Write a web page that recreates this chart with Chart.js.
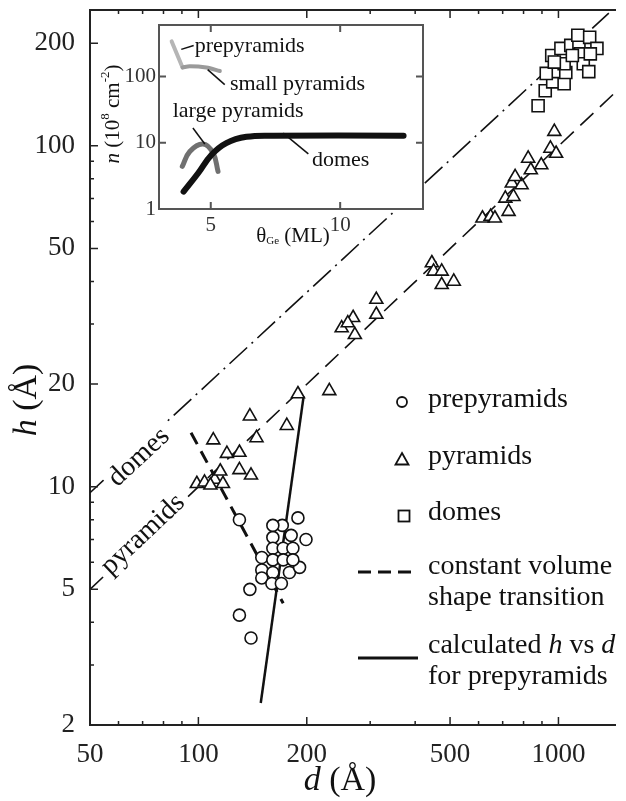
<!DOCTYPE html>
<html>
<head>
<meta charset="utf-8">
<script src="https://cdn.jsdelivr.net/npm/chart.js@4.4.0/dist/chart.umd.min.js"></script>
<style>
  html, body { margin: 0; padding: 0; background: #fff; overflow: hidden; }
  #wrap { position: relative; width: 626px; height: 801px; }
  #mainChart { position: absolute; left: 0; top: 0; }
  #insetChart { position: absolute; left: 100px; top: 14px; }
</style>
</head>
<body>
<div id="wrap">
  <canvas id="mainChart" width="626" height="801"></canvas>
  <canvas id="insetChart" width="340" height="240"></canvas>
</div>
<script>
// ---- main panel: island height h vs diameter d (both in Angstrom) ----
let prepyrD = [130, 171, 189, 161, 181, 199, 161, 172, 183, 150, 161, 172, 150, 161, 179, 191, 150, 160, 170, 139, 130, 140, 183, 161];
let prepyrH = [8.0, 7.7, 8.1, 7.1, 7.2, 7.0, 6.6, 6.6, 6.6, 6.2, 6.1, 6.1, 5.7, 5.6, 5.6, 5.8, 5.4, 5.2, 5.2, 5.0, 4.2, 3.6, 6.1, 7.7];

let pyrD = [99, 104, 111, 117, 115, 120, 130, 130, 140, 110, 139, 145, 176, 189, 231, 250, 269, 272, 312, 312,
            445, 450, 474, 474, 512, 615, 648, 666, 727, 712, 750, 742, 790, 974, 950, 985, 896, 824, 838, 758, 108, 260];
let pyrH = [10.2, 10.3, 10.5, 10.2, 11.1, 12.5, 12.6, 11.2, 10.8, 13.7, 16.1, 13.9, 15.1, 18.7, 19.1, 29.2, 31.3, 27.9, 35.4, 32.0,
            45.3, 42.8, 42.8, 39.1, 40.0, 61.3, 62.0, 61.3, 64.1, 70.1, 70.9, 77.6, 76.7, 110, 98.2, 94.9, 87.8, 91.8, 84.9, 81.1, 10.1, 30.2];

let domeD = [878, 919, 964, 1037, 985, 1048, 925, 958, 1016, 1037, 1082, 1140, 1132, 1152, 1172, 1214, 1221, 1279, 1226, 974, 1093];
let domeH = [131, 145, 154, 152, 165, 164, 163, 184, 193, 174, 197, 201, 211, 186, 174, 165, 208, 193, 186, 176, 184];

// guide lines (end points)
let domeLineD = [50, 1380];
let domeLineH = [9.6, 245];
let pyrLineD = [50, 1444];
let pyrLineH = [5, 144];
let constVolD = [95.4, 172];
let constVolH = [14.4, 4.55];
let calcD = [149, 196];
let calcH = [2.32, 18.4];

// axes
let xTickValues = [50, 60, 70, 80, 90, 100, 200, 300, 400, 500, 600, 700, 800, 900, 1000];
let xLabels = [50, 100, 200, 500, 1000];
let yTickValues = [2, 3, 4, 5, 6, 7, 8, 9, 10, 20, 30, 40, 50, 60, 70, 80, 90, 100, 200];
let yLabels = [2, 5, 10, 20, 50, 100, 200];

// ---- inset: island density n (1e8 cm^-2) vs Ge coverage (ML) ----
let prepyrTheta = [3.49, 3.91];
let prepyrN = [339, 137];
let smallPyrTheta = [3.91, 4.19, 4.83, 5.35];
let smallPyrN = [137, 143, 137, 121];
let largePyrTheta = [3.9, 4.19, 4.7, 5.09, 5.28];
let largePyrN = [4.4, 7.4, 9.6, 7.0, 3.7];
let domeTheta = [3.95, 4.51, 5.03, 5.6, 6.38, 7.41, 12.45];
let domeN = [1.83, 3.47, 6.6, 9.9, 12.3, 12.8, 12.8];

let insetXTicks = [5, 10];
let insetYTicks = [1, 10, 100];

let serif = '"Liberation Serif", "Times New Roman", serif';
Chart.defaults.font.family = serif;
Chart.defaults.color = '#222';

function pts(xs, ys) {
  return xs.map(function (v, i) { return { x: v, y: ys[i] }; });
}

function partsWidth(ctx, parts) {
  let w = 0;
  parts.forEach(function (p) { ctx.font = p.font; w += ctx.measureText(p.t).width; });
  return w;
}

function drawParts(ctx, x, y, parts) {
  parts.forEach(function (p) {
    ctx.font = p.font;
    ctx.fillText(p.t, x, y + (p.dy || 0));
    x += ctx.measureText(p.t).width;
  });
}

// keep the chart area where we put it: no extra room for the end labels
function fixedWidth(w) {
  return function (s) { s.width = w; s.paddingTop = 0; s.paddingBottom = 0; };
}

// label sitting on a guide line, rotated along it
function lineLabel(chart, text, d, h, lineD, lineH) {
  let ctx = chart.ctx;
  let xs = chart.scales.x, ys = chart.scales.y;
  let ang = Math.atan2(ys.getPixelForValue(lineH[1]) - ys.getPixelForValue(lineH[0]),
                       xs.getPixelForValue(lineD[1]) - xs.getPixelForValue(lineD[0]));
  ctx.save();
  ctx.translate(xs.getPixelForValue(d), ys.getPixelForValue(h));
  ctx.rotate(ang);
  ctx.font = '28px ' + serif;
  let w = ctx.measureText(text).width;
  ctx.fillStyle = '#fff';
  ctx.fillRect(-w / 2 - 5, -16, w + 10, 30);
  ctx.fillStyle = '#111';
  ctx.textAlign = 'center';
  ctx.textBaseline = 'middle';
  ctx.fillText(text, 0, 0);
  ctx.restore();
}

const mainDecor = {
  id: 'mainDecor',
  afterDatasetsDraw(chart) {
    lineLabel(chart, 'domes', 68.4, 12.2, domeLineD, domeLineH);
    lineLabel(chart, 'pyramids', 70.2, 7.24, pyrLineD, pyrLineH);
  },
  afterDraw(chart) {
    let ctx = chart.ctx;
    let a = chart.chartArea;
    let xs = chart.scales.x, ys = chart.scales.y;

    // inward ticks
    ctx.save();
    ctx.strokeStyle = '#222';
    ctx.lineWidth = 1.5;
    ctx.beginPath();
    xTickValues.forEach(function (v) {
      let px = xs.getPixelForValue(v);
      let len = xLabels.includes(v) ? 8 : 4;
      ctx.moveTo(px, a.bottom); ctx.lineTo(px, a.bottom - len);
      ctx.moveTo(px, a.top); ctx.lineTo(px, a.top + len);
    });
    yTickValues.forEach(function (v) {
      let py = ys.getPixelForValue(v);
      let len = yLabels.includes(v) ? 8 : 4;
      ctx.moveTo(a.left, py); ctx.lineTo(a.left + len, py);
    });
    ctx.stroke();

    // axis titles
    ctx.fillStyle = '#111';
    ctx.textBaseline = 'middle';
    ctx.textAlign = 'left';
    let xt = [{ t: 'd', font: 'italic 34px ' + serif }, { t: ' (Å)', font: '34px ' + serif }];
    drawParts(ctx, 340 - partsWidth(ctx, xt) / 2, 781, xt);
    let yt = [{ t: 'h', font: 'italic 34px ' + serif }, { t: ' (Å)', font: '34px ' + serif }];
    ctx.save();
    ctx.translate(27, 400);
    ctx.rotate(-Math.PI / 2);
    drawParts(ctx, -partsWidth(ctx, yt) / 2, 0, yt);
    ctx.restore();

    // legend
    let tx = 428;
    ctx.strokeStyle = '#111';
    ctx.lineWidth = 1.8;
    ctx.beginPath();
    ctx.arc(402, 402, 5, 0, Math.PI * 2);
    ctx.stroke();
    ctx.beginPath();
    ctx.moveTo(402, 453); ctx.lineTo(408.5, 464.5); ctx.lineTo(395.5, 464.5); ctx.closePath();
    ctx.stroke();
    ctx.strokeRect(398.5, 510.5, 11, 11);
    ctx.lineWidth = 3;
    ctx.setLineDash([13, 7]);
    ctx.beginPath(); ctx.moveTo(358, 572); ctx.lineTo(418, 572); ctx.stroke();
    ctx.setLineDash([]);
    ctx.beginPath(); ctx.moveTo(358, 658); ctx.lineTo(418, 658); ctx.stroke();

    ctx.font = '28px ' + serif;
    ctx.fillText('prepyramids', tx, 400);
    ctx.fillText('pyramids', tx, 457);
    ctx.fillText('domes', tx, 513);
    ctx.fillText('constant volume', tx, 567);
    ctx.fillText('shape transition', tx, 598);
    drawParts(ctx, tx, 646, [
      { t: 'calculated ', font: '28px ' + serif },
      { t: 'h', font: 'italic 28px ' + serif },
      { t: ' vs ', font: '28px ' + serif },
      { t: 'd', font: 'italic 28px ' + serif }
    ]);
    ctx.font = '28px ' + serif;
    ctx.fillText('for prepyramids', tx, 677);
    ctx.restore();
  }
};

function markerSet(label, xs, ys, style, r) {
  return {
    label: label, data: pts(xs, ys), pointStyle: style, pointRadius: r,
    pointBorderColor: '#111', pointBackgroundColor: '#fff', pointBorderWidth: 1.6, order: 0
  };
}

function lineSet(label, xs, ys, width, dash) {
  return {
    label: label, data: pts(xs, ys), showLine: true, pointRadius: 0,
    borderColor: '#111', borderWidth: width, borderDash: dash, order: 1
  };
}

new Chart(document.getElementById('mainChart'), {
  type: 'scatter',
  data: {
    datasets: [
      markerSet('prepyramids', prepyrD, prepyrH, 'circle', 6),
      markerSet('pyramids', pyrD, pyrH, 'triangle', 7.5),
      markerSet('domes', domeD, domeH, 'rect', 8.5),
      lineSet('domes fit', domeLineD, domeLineH, 1.6, [24, 6, 2, 6]),
      lineSet('pyramids fit', pyrLineD, pyrLineH, 1.6, [18, 9]),
      lineSet('constant volume', constVolD, constVolH, 3, [13, 8]),
      lineSet('calculated', calcD, calcH, 2.5, [])
    ]
  },
  options: {
    responsive: false,
    animation: false,
    devicePixelRatio: 1,
    layout: { padding: 0 },
    plugins: { legend: { display: false }, tooltip: { enabled: false } },
    scales: {
      x: {
        type: 'logarithmic', position: 'bottom', min: 50, max: 1444,
        grid: { display: false, drawTicks: false },
        border: { display: true, color: '#222', width: 2 },
        ticks: {
          autoSkip: false, maxRotation: 0, padding: 14, color: '#222', font: { size: 27 },
          callback: function (v) { return xLabels.includes(v) ? String(v) : ''; }
        },
        afterBuildTicks: function (s) { s.ticks = xTickValues.map(function (v) { return { value: v }; }); },
        afterFit: function (s) { s.height = 76; }
      },
      x2: {
        type: 'logarithmic', position: 'top', min: 50, max: 1444,
        grid: { display: false, drawTicks: false },
        border: { display: true, color: '#222', width: 2 },
        ticks: { display: false },
        afterFit: function (s) { s.height = 8; }
      },
      y: {
        type: 'logarithmic', position: 'left', min: 2, max: 250,
        grid: { display: false, drawTicks: false },
        border: { display: true, color: '#222', width: 2 },
        ticks: {
          autoSkip: false, padding: 15, color: '#222', font: { size: 27 },
          callback: function (v) { return yLabels.includes(v) ? String(v) : ''; }
        },
        afterBuildTicks: function (s) { s.ticks = yTickValues.map(function (v) { return { value: v }; }); },
        afterFit: fixedWidth(90)
      }
    }
  },
  plugins: [mainDecor]
});

// ---- inset ----
const insetDecor = {
  id: 'insetDecor',
  beforeDatasetsDraw(chart) {
    let a = chart.chartArea;
    chart.ctx.save();
    chart.ctx.fillStyle = '#fff';
    chart.ctx.fillRect(a.left, a.top, a.right - a.left, a.bottom - a.top);
    chart.ctx.restore();
  },
  afterDraw(chart) {
    let ctx = chart.ctx;
    let a = chart.chartArea;
    let xs = chart.scales.x, ys = chart.scales.y;
    ctx.save();
    ctx.strokeStyle = '#555';
    ctx.lineWidth = 2;
    ctx.strokeRect(a.left, a.top, a.right - a.left, a.bottom - a.top);
    ctx.beginPath();
    insetXTicks.forEach(function (v) {
      let px = xs.getPixelForValue(v);
      ctx.moveTo(px, a.bottom); ctx.lineTo(px, a.bottom - 7);
      ctx.moveTo(px, a.top); ctx.lineTo(px, a.top + 7);
    });
    [10, 100].forEach(function (v) {
      let py = ys.getPixelForValue(v);
      ctx.moveTo(a.left, py); ctx.lineTo(a.left + 7, py);
      ctx.moveTo(a.right, py); ctx.lineTo(a.right - 7, py);
    });
    ctx.stroke();

    // curve names with leader lines
    let notes = [
      { t: 'prepyramids', x: 4.38, y: 285, from: [3.86, 257], to: [4.34, 295] },
      { t: 'small pyramids', x: 5.74, y: 75.6, from: [4.88, 127], to: [5.54, 75.6] },
      { t: 'large pyramids', x: 3.53, y: 29.5, from: [4.77, 9.6], to: [4.31, 16.7] },
      { t: 'domes', x: 8.91, y: 5.53, from: [7.8, 14], to: [8.77, 6.8] }
    ];
    ctx.strokeStyle = '#111';
    ctx.lineWidth = 1.5;
    ctx.fillStyle = '#111';
    ctx.font = '22px ' + serif;
    ctx.textBaseline = 'middle';
    ctx.textAlign = 'left';
    notes.forEach(function (n) {
      ctx.beginPath();
      ctx.moveTo(xs.getPixelForValue(n.from[0]), ys.getPixelForValue(n.from[1]));
      ctx.lineTo(xs.getPixelForValue(n.to[0]), ys.getPixelForValue(n.to[1]));
      ctx.stroke();
      ctx.fillText(n.t, xs.getPixelForValue(n.x), ys.getPixelForValue(n.y));
    });

    // axis titles
    let xt = [
      { t: 'θ', font: '21px ' + serif },
      { t: 'Ge', font: '11px ' + serif, dy: 5 },
      { t: ' (ML)', font: '21px ' + serif }
    ];
    drawParts(ctx, 193 - partsWidth(ctx, xt) / 2, 222, xt);
    let yt = [
      { t: 'n', font: 'italic 21px ' + serif },
      { t: ' (10', font: '21px ' + serif },
      { t: '8', font: '13px ' + serif, dy: -7 },
      { t: ' cm', font: '21px ' + serif },
      { t: '-2', font: '13px ' + serif, dy: -7 },
      { t: ')', font: '21px ' + serif }
    ];
    ctx.translate(13, 100);
    ctx.rotate(-Math.PI / 2);
    drawParts(ctx, -partsWidth(ctx, yt) / 2, 0, yt);
    ctx.restore();
  }
};

function curveSet(label, xs, ys, color, width, tension) {
  return {
    label: label, data: pts(xs, ys), showLine: true, pointRadius: 0,
    borderColor: color, borderWidth: width, tension: tension, borderCapStyle: 'round'
  };
}

new Chart(document.getElementById('insetChart'), {
  type: 'scatter',
  data: {
    datasets: [
      curveSet('domes', domeTheta, domeN, '#111', 6, 0.4),
      curveSet('large pyramids', largePyrTheta, largePyrN, '#707070', 5, 0.4),
      curveSet('small pyramids', smallPyrTheta, smallPyrN, '#9a9a9a', 4, 0.3),
      curveSet('prepyramids', prepyrTheta, prepyrN, '#b5b5b5', 4, 0)
    ]
  },
  options: {
    responsive: false,
    animation: false,
    devicePixelRatio: 1,
    layout: { padding: { top: 11, right: 17, left: 0, bottom: 0 } },
    plugins: { legend: { display: false }, tooltip: { enabled: false } },
    scales: {
      x: {
        type: 'linear', min: 3, max: 13.2,
        grid: { display: false, drawTicks: false },
        border: { display: false },
        ticks: { autoSkip: false, maxRotation: 0, padding: 4, color: '#333', font: { size: 21 } },
        afterBuildTicks: function (s) { s.ticks = insetXTicks.map(function (v) { return { value: v }; }); },
        afterFit: function (s) { s.height = 45; }
      },
      y: {
        type: 'logarithmic', min: 1, max: 600,
        grid: { display: false, drawTicks: false },
        border: { display: false },
        ticks: {
          autoSkip: false, padding: 3, color: '#333', font: { size: 21 },
          callback: function (v) { return String(v); }
        },
        afterBuildTicks: function (s) { s.ticks = insetYTicks.map(function (v) { return { value: v }; }); },
        afterFit: fixedWidth(59)
      }
    }
  },
  plugins: [insetDecor]
});
</script>
</body>
</html>
